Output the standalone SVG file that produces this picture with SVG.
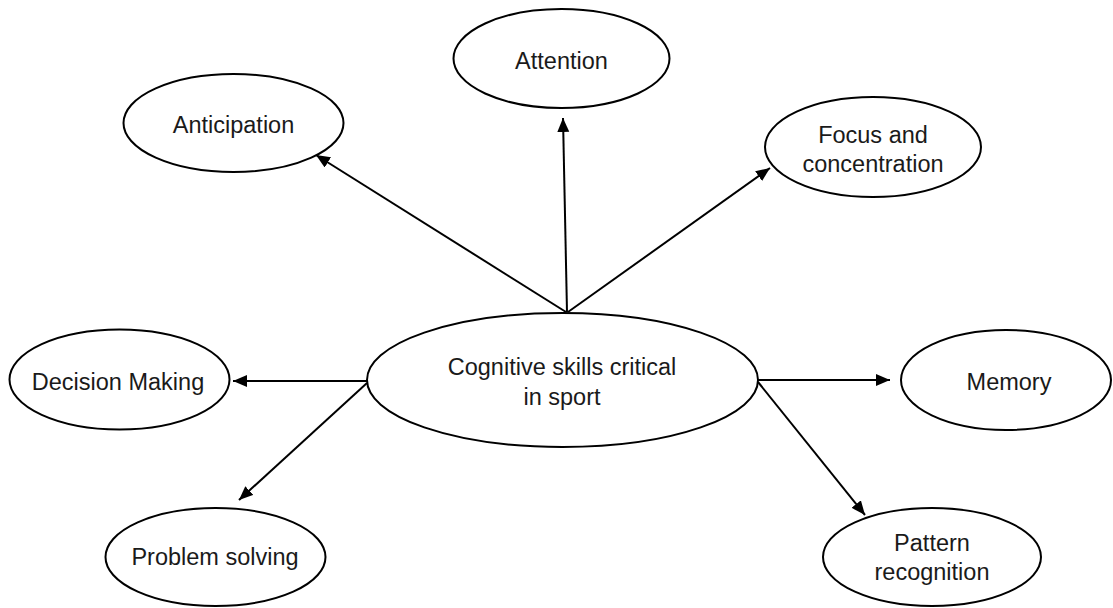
<svg xmlns="http://www.w3.org/2000/svg" width="1113" height="608" viewBox="0 0 1113 608">
<style>
.node ellipse{fill:#fff;stroke:#000;stroke-width:2}
.node text{font-family:"Liberation Sans",Arial,sans-serif;font-size:23.5px;fill:#1a1a1a;text-anchor:middle}
.conn line{stroke:#000;stroke-width:2;marker-end:url(#ah)}
</style>
<defs>
<marker id="ah" markerUnits="userSpaceOnUse" markerWidth="16" markerHeight="14" refX="14" refY="6" orient="auto">
<path d="M0,0 L14,6 L0,12 Z" fill="#000"/>
</marker>
</defs>
<rect width="1113" height="608" fill="#fff"/>
<g id="connectors" class="conn">
<line x1="567" y1="312" x2="563" y2="118"/>
<line x1="566" y1="312" x2="316" y2="155"/>
<line x1="568" y1="312" x2="770" y2="168"/>
<line x1="367" y1="381" x2="233" y2="381"/>
<line x1="367" y1="383" x2="239" y2="500"/>
<line x1="758" y1="380" x2="890" y2="380"/>
<line x1="758" y1="382" x2="865" y2="515"/>
</g>
<g id="center" class="node">
<ellipse cx="562.5" cy="380" rx="195.5" ry="67"/>
<text x="562" y="375">Cognitive skills critical</text>
<text x="562" y="405">in sport</text>
</g>
<g id="attention" class="node">
<ellipse cx="561.5" cy="58.5" rx="108" ry="49.5"/>
<text x="561.5" y="69">Attention</text>
</g>
<g id="anticipation" class="node">
<ellipse cx="233.5" cy="123" rx="110" ry="49"/>
<text x="233.5" y="133">Anticipation</text>
</g>
<g id="focus" class="node">
<ellipse cx="873" cy="147" rx="108" ry="50"/>
<text x="873" y="143">Focus and</text>
<text x="873" y="172">concentration</text>
</g>
<g id="decision" class="node">
<ellipse cx="119.5" cy="379.5" rx="110" ry="50"/>
<text x="118" y="390">Decision Making</text>
</g>
<g id="memory" class="node">
<ellipse cx="1006" cy="380" rx="105" ry="50"/>
<text x="1009" y="390">Memory</text>
</g>
<g id="problem" class="node">
<ellipse cx="215.5" cy="557" rx="110" ry="49"/>
<text x="215" y="565">Problem solving</text>
</g>
<g id="pattern" class="node">
<ellipse cx="932" cy="557" rx="109" ry="49"/>
<text x="932" y="551">Pattern</text>
<text x="932" y="580">recognition</text>
</g>
</svg>
